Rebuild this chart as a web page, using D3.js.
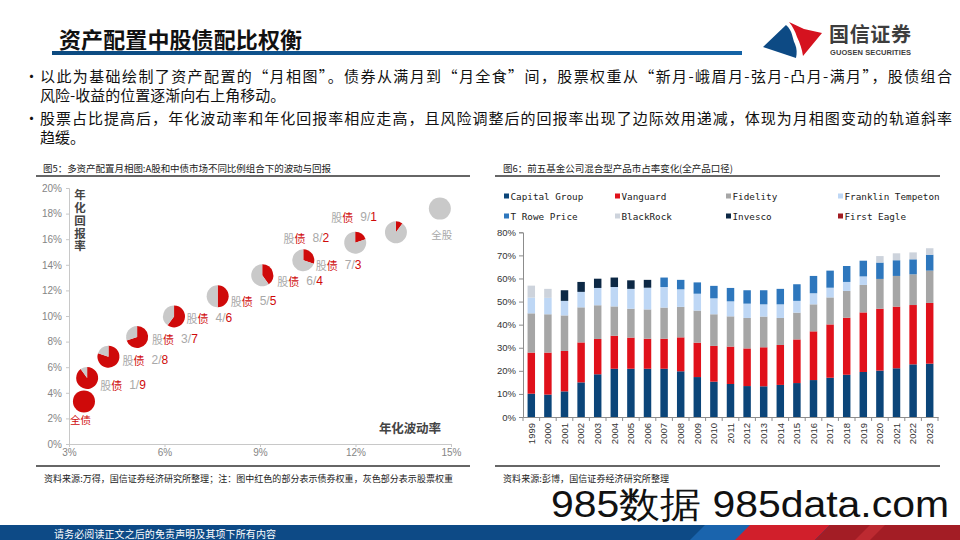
<!DOCTYPE html>
<html><head><meta charset="utf-8">
<script src="https://cdn.jsdelivr.net/npm/d3@7"></script>
<style>
body{margin:0;background:#fff;}
svg{display:block;font-family:"Noto Sans CJK SC","Noto Sans",sans-serif;}
</style></head><body>
<svg id="c" width="960" height="540"></svg>
<script>
// ---------------- data ----------------
const pageTitle = "资产配置中股债配比权衡";
const bulletLines = [
  ["以此为基础绘制了资产配置的“月相图”。债券从满月到“月全食”间，股票权重从“新月-峨眉月-弦月-凸月-满月”，股债组合", "风险-收益的位置逐渐向右上角移动。"],
  ["股票占比提高后，年化波动率和年化回报率相应走高，且风险调整后的回报率出现了边际效用递减，体现为月相图变动的轨道斜率", "趋缓。"]
];
const leftTitle = "图5：多资产配置月相图:A股和中债市场不同比例组合下的波动与回报";
const rightTitle = "图6：前五基金公司混合型产品市占率变化(全产品口径)";
const leftSource = "资料来源:万得，国信证券经济研究所整理；注：图中红色的部分表示债券权重，灰色部分表示股票权重";
const rightSource = "资料来源:彭博，国信证券经济研究所整理";
const footerText = "请务必阅读正文之后的免责声明及其项下所有内容";

// Moon chart (figure 5)
const moonLabels = ["全债","股债 1/9","股债 2/8","股债 3/7","股债 4/6","股债 5/5","股债 6/4","股债 7/3","股债 8/2","股债 9/1","全股"];
const moonVol    = [3.47, 3.57, 4.24, 5.14, 6.30, 7.67, 9.07, 10.36, 11.99, 13.27, 14.65];   // 年化波动率 %
const moonRet    = [3.33, 5.16, 6.82, 8.36, 9.97, 11.54, 13.18, 14.35, 15.73, 16.54, 18.39]; // 年化回报率 %
const bondWeight = [1.0, 0.9, 0.8, 0.7, 0.6, 0.5, 0.4, 0.3, 0.2, 0.1, 0.0];
const moonXTicks = [3, 6, 9, 12, 15];
const moonYTicks = [0, 2, 4, 6, 8, 10, 12, 14, 16, 18, 20];

// Market share chart (figure 6)
const years = ["1999","2000","2001","2002","2003","2004","2005","2006","2007","2008","2009","2010","2011","2012","2013","2014","2015","2016","2017","2018","2019","2020","2021","2022","2023"];
const seriesNames = ["Capital Group","Vanguard","Fidelity","Franklin Tempeton","T Rowe Price","BlackRock","Invesco","First Eagle"];
const capitalGroup = [10.1, 9.7,11.1,15.0,18.5,20.9,20.9,20.9,20.9,19.8,17.3,15.3,14.3,13.4,13.3,13.9,14.7,16.0,17.0,18.3,19.5,20.1,21.1,22.8,23.1];
const vanguard     = [17.8,18.2,17.5,17.3,15.3,14.3,13.5,13.0,13.0,14.7,14.9,15.5,16.2,16.3,16.9,17.3,18.9,21.1,23.1,24.7,25.8,26.8,26.7,25.7,26.3];
const fidelity     = [17.0,16.6,15.4,15.2,14.6,12.7,12.5,12.7,13.5,13.2,13.9,13.7,13.1,13.2,13.3,11.7,11.6,11.7,11.7,11.6,11.9,12.9,13.3,13.3,14.0];
const franklin     = [ 6.8, 7.1, 6.3, 6.7, 7.5, 8.4, 8.6, 9.4, 8.9, 7.6, 7.3, 6.9, 6.5, 6.2, 5.3, 5.9, 5.1, 4.8, 4.2, 3.9, 3.7, 0, 0, 0, 0];
const tRowePrice   = [ 0, 0, 0, 0, 0, 0, 0, 0, 4.1, 4.1, 4.9, 5.4, 5.8, 5.8, 6.1, 6.7, 7.2, 7.5, 7.4, 6.9, 6.8, 7.1, 6.8, 6.5, 6.9];
const blackRock    = [ 5.2, 3.9, 0, 0, 0, 0, 0, 0, 0, 0, 0, 0, 0, 0, 0, 0, 0, 0, 0, 0, 0, 2.8, 3.0, 3.0, 2.8];
const invesco      = [ 0, 0, 4.6, 4.3, 4.0, 4.1, 3.7, 3.4, 0, 0, 0, 0, 0, 0, 0, 0, 0, 0, 0, 0, 0, 0, 0, 0, 0];
const firstEagle   = [ 0, 0, 0, 0, 0, 0, 0, 0, 0, 0, 0, 0, 0, 0, 0, 0, 0, 0, 0, 0, 0, 0, 0, 0, 0];
const shareTicks = [0, 10, 20, 30, 40, 50, 60, 70, 80];

// ---------------- styles ----------------
const seriesColors = ["#0b4579","#e0111b","#a6a6a6","#bed7f5","#2e77bd","#cdd3dc","#0c2845","#a11c22"];
const RED = "#cf0a0a", GRAY = "#c9c9c9", LABEL_GRAY = "#a9a9a9";

const svg = d3.select("#c");

// ---------------- header ----------------
svg.append("text").attr("x", 59).attr("y", 38).attr("dominant-baseline","central")
  .attr("font-size", 22).attr("font-weight", "bold").attr("fill", "#111")
  .attr("textLength", 243).text(pageTitle);

const grad = svg.append("defs").append("linearGradient").attr("id","tl");
grad.append("stop").attr("offset","0%").attr("stop-color","#0c4a80");
grad.append("stop").attr("offset","100%").attr("stop-color","#1463a6");
svg.append("rect").attr("x",52).attr("y",51).attr("width",690).attr("height",4).attr("fill","url(#tl)");

// logo
svg.append("path").attr("d","M763,47 L786,25 C793,31 792,38 795,44 C797,49 797,53 796,58 Z").attr("fill","#0d4a84");
svg.append("path").attr("d","M789,22 L804,29 L822,33 L803,56 C802,49 800,43 797,37 C795,31 793,27 789,22 Z").attr("fill","#d5121f");
svg.append("text").attr("x",829).attr("y",33).attr("dominant-baseline","central")
  .attr("font-size",20).attr("font-weight","bold").attr("fill","#3d3d3d").attr("textLength",82).text("国信证券");
svg.append("text").attr("x",830).attr("y",52.5).attr("dominant-baseline","central")
  .attr("font-size",7.5).attr("font-weight","bold").attr("fill","#3d3d3d").attr("textLength",81)
  .attr("font-family","Liberation Sans, Arial, sans-serif").text("GUOSEN SECURITIES");

// bullets
const bulletY = [[75.5, 94.5], [117, 136]];
bulletLines.forEach((lines, bi) => {
  svg.append("text").attr("x", 24).attr("y", bulletY[bi][0]).attr("dominant-baseline","central")
    .attr("font-size", 15).attr("fill","#111").text("•");
  lines.forEach((ln, li) => {
    const t = svg.append("text").attr("x", 40).attr("y", bulletY[bi][li]).attr("dominant-baseline","central")
      .attr("font-size", 15).attr("fill","#111").text(ln);
    if (li === 0) t.attr("textLength", 912).attr("lengthAdjust","spacing");
  });
});

// ---------------- chart titles & rules ----------------
svg.append("text").attr("x",43).attr("y",168).attr("dominant-baseline","central")
  .attr("font-size",9.5).attr("fill","#222").attr("textLength",288).text(leftTitle);
svg.append("line").attr("x1",36).attr("x2",470).attr("y1",176).attr("y2",176).attr("stroke","#333").attr("stroke-width",1.3);
svg.append("text").attr("x",503).attr("y",168).attr("dominant-baseline","central")
  .attr("font-size",9.5).attr("fill","#222").attr("textLength",230).text(rightTitle);
svg.append("line").attr("x1",495).attr("x2",940).attr("y1",176).attr("y2",176).attr("stroke","#333").attr("stroke-width",1.3);

svg.append("line").attr("x1",36).attr("x2",470).attr("y1",466).attr("y2",466).attr("stroke","#333").attr("stroke-width",1.3);
svg.append("line").attr("x1",495).attr("x2",940).attr("y1",466).attr("y2",466).attr("stroke","#333").attr("stroke-width",1.3);
svg.append("text").attr("x",44).attr("y",478).attr("dominant-baseline","central")
  .attr("font-size",9).attr("fill","#222").attr("textLength",409).text(leftSource);
svg.append("text").attr("x",503).attr("y",478).attr("dominant-baseline","central")
  .attr("font-size",9).attr("fill","#222").attr("textLength",166).text(rightSource);

// ---------------- Figure 5: moon chart ----------------
const mx = d3.scaleLinear().domain([3, 15]).range([69, 451]);
const my = d3.scaleLinear().domain([0, 20]).range([444, 188]);

const yAx = svg.append("g").attr("transform","translate(69,0)")
  .call(d3.axisLeft(my).tickValues(moonYTicks).tickSize(3).tickPadding(4).tickFormat(d => d + "%"));
const xAx = svg.append("g").attr("transform","translate(0,444)")
  .call(d3.axisBottom(mx).tickValues(moonXTicks).tickSize(3).tickPadding(2).tickFormat(d => d + "%"));
[yAx, xAx].forEach(g => {
  g.select(".domain").attr("stroke","#c8c8c8");
  g.selectAll(".tick line").attr("stroke","#c8c8c8");
  g.selectAll(".tick text").attr("fill","#858585").attr("font-size",10)
    .attr("font-family","Liberation Sans, Arial, sans-serif");
});

// axis titles (vertical text as a single element)
svg.append("text").attr("x", 80).attr("y", 189)
  .style("writing-mode", "vertical-rl").style("letter-spacing", "1.3px")
  .attr("font-size", 11.5).attr("font-weight","bold").attr("fill","#444").text("年化回报率");
svg.append("text").attr("x", 379).attr("y", 427).attr("dominant-baseline","central")
  .attr("font-size", 12.5).attr("font-weight","bold").attr("fill","#444").attr("textLength",62).text("年化波动率");

// labels (offset from pie centre; anchor)
const labelOffsets = [[-14,18,"start"],[13,7,"start"],[14,3.5,"start"],[15,2,"start"],[12.5,2,"start"],[13,4.5,"start"],
                      [15,6,"start"],[12.5,4.5,"start"],[-26,-5,"end"],[-19,-15.5,"end"],[2,25.5,"middle"]];
const pie = d3.pie().sort(null).value(d => d);
const arc = d3.arc().innerRadius(0).outerRadius(11);
const R = 11;

moonLabels.forEach((lab, i) => {
  const cx = mx(moonVol[i]), cy = my(moonRet[i]);
  const [dx, dy, anchor] = labelOffsets[i];
  const t = svg.append("text").attr("x", cx + dx).attr("y", cy + dy).attr("dominant-baseline","central")
    .attr("text-anchor", anchor).attr("font-size", 11);
  if (lab.indexOf("/") >= 0) {
    const [name, ratio] = lab.split(" ");
    const [a, b] = ratio.split("/");
    t.append("tspan").attr("fill", LABEL_GRAY).text(name[0]);
    t.append("tspan").attr("fill", RED).text(name[1]);
    t.append("tspan").attr("dx", 7).attr("fill", LABEL_GRAY).attr("font-size", 12)
      .attr("font-family","Liberation Sans, Arial, sans-serif").text(a + "/");
    t.append("tspan").attr("fill", RED).attr("font-size", 12)
      .attr("font-family","Liberation Sans, Arial, sans-serif").text(b);
  } else {
    t.attr("fill", lab === "全债" ? RED : LABEL_GRAY).attr("font-size", 10.5).text(lab);
  }
});

moonLabels.forEach((lab, i) => {
  const cx = mx(moonVol[i]), cy = my(moonRet[i]);
  const g = svg.append("g").attr("transform", `translate(${cx},${cy})`);
  const w = bondWeight[i];
  if (w >= 1 || w <= 0) {
    g.append("circle").attr("r", R).attr("fill", w >= 1 ? RED : GRAY);
  } else {
    g.selectAll("path").data(pie([w, 1 - w])).join("path")
      .attr("d", arc).attr("fill", (d, j) => j === 0 ? RED : GRAY);
  }
});

// ---------------- Figure 6: stacked bars ----------------
const seriesArrays = [capitalGroup, vanguard, fidelity, franklin, tRowePrice, blackRock, invesco, firstEagle];
const rows = years.map((yr, i) => {
  const r = { year: yr };
  seriesNames.forEach((n, k) => r[n] = seriesArrays[k][i]);
  return r;
});
const stacked = d3.stack().keys(seriesNames)(rows);

const bx = d3.scaleBand().domain(years).range([523, 938]).paddingInner(0.55).paddingOuter(0.275);
const by = d3.scaleLinear().domain([0, 80]).range([417, 232.3]);

svg.append("g").selectAll("g").data(stacked).join("g")
  .attr("fill", (d, k) => seriesColors[k])
  .selectAll("rect").data(d => d.filter(p => p[1] - p[0] > 0)).join("rect")
  .attr("x", d => bx(d.data.year)).attr("width", bx.bandwidth())
  .attr("y", d => by(d[1])).attr("height", d => by(d[0]) - by(d[1]));

const byAx = svg.append("g").attr("transform","translate(523,0)")
  .call(d3.axisLeft(by).tickValues(shareTicks).tickSize(4).tickPadding(3).tickFormat(d => d + "%"));
byAx.select(".domain").attr("stroke","#8c8c8c");
byAx.selectAll(".tick line").attr("stroke","#8c8c8c");
byAx.selectAll(".tick text").attr("fill","#333").attr("font-size",9.5).attr("font-family","Liberation Sans, Arial, sans-serif");

const bxAx = svg.append("g").attr("transform","translate(0,417)")
  .call(d3.axisBottom(bx).tickSize(0).tickSizeOuter(0));
bxAx.select(".domain").attr("stroke","#8c8c8c");
bxAx.selectAll(".tick text").attr("fill","#333").attr("font-size",9.5)
  .attr("font-family","Liberation Sans, Arial, sans-serif")
  .attr("transform","rotate(-90)").attr("text-anchor","end")
  .attr("x", -6).attr("y", 0).attr("dy","0.35em");
// tick marks at category boundaries
svg.append("g").selectAll("line").data(d3.range(years.length + 1)).join("line")
  .attr("x1", i => bx.range()[0] + i * bx.step()).attr("x2", i => bx.range()[0] + i * bx.step())
  .attr("y1", 417).attr("y2", 421).attr("stroke","#8c8c8c");

// legend
const legCols = [504, 615, 726, 838], legRows = [196, 216];
seriesNames.forEach((n, k) => {
  const x = legCols[k % 4], y = legRows[Math.floor(k / 4)];
  svg.append("rect").attr("x", x).attr("y", y - 2.5).attr("width", 5).attr("height", 5).attr("fill", seriesColors[k]);
  svg.append("text").attr("x", x + 6.5).attr("y", y).attr("dominant-baseline","central")
    .attr("font-size", 9.3).attr("fill","#222").attr("font-family","DejaVu Sans Mono, Liberation Mono, monospace").text(n);
});

// ---------------- footer ----------------
svg.append("rect").attr("x",0).attr("y",525).attr("width",960).attr("height",15).attr("fill","#0d4a86");
svg.append("polygon").attr("points","690,540 705,525 760,525 745,540").attr("fill","#1a64ad");
svg.append("polygon").attr("points","735,540 750,525 830,525 815,540").attr("fill","#d11f2b");
svg.append("polygon").attr("points","815,540 830,525 960,525 960,540").attr("fill","#a31d25");
svg.append("polygon").attr("points","855,540 870,525 885,525 870,540").attr("fill","#bd2a31");
svg.append("text").attr("x",54).attr("y",533).attr("dominant-baseline","central")
  .attr("font-size",10).attr("fill","#fff").attr("textLength",222).text(footerText);

// watermark
svg.append("text").attr("x",551).attr("y",517).attr("font-size",36).attr("fill","#111")
  .attr("font-family","Liberation Sans Narrow, Liberation Sans, Arial, sans-serif")
  .attr("textLength",398).attr("lengthAdjust","spacingAndGlyphs").text("985数据 985data.com");
</script>
</body></html>
